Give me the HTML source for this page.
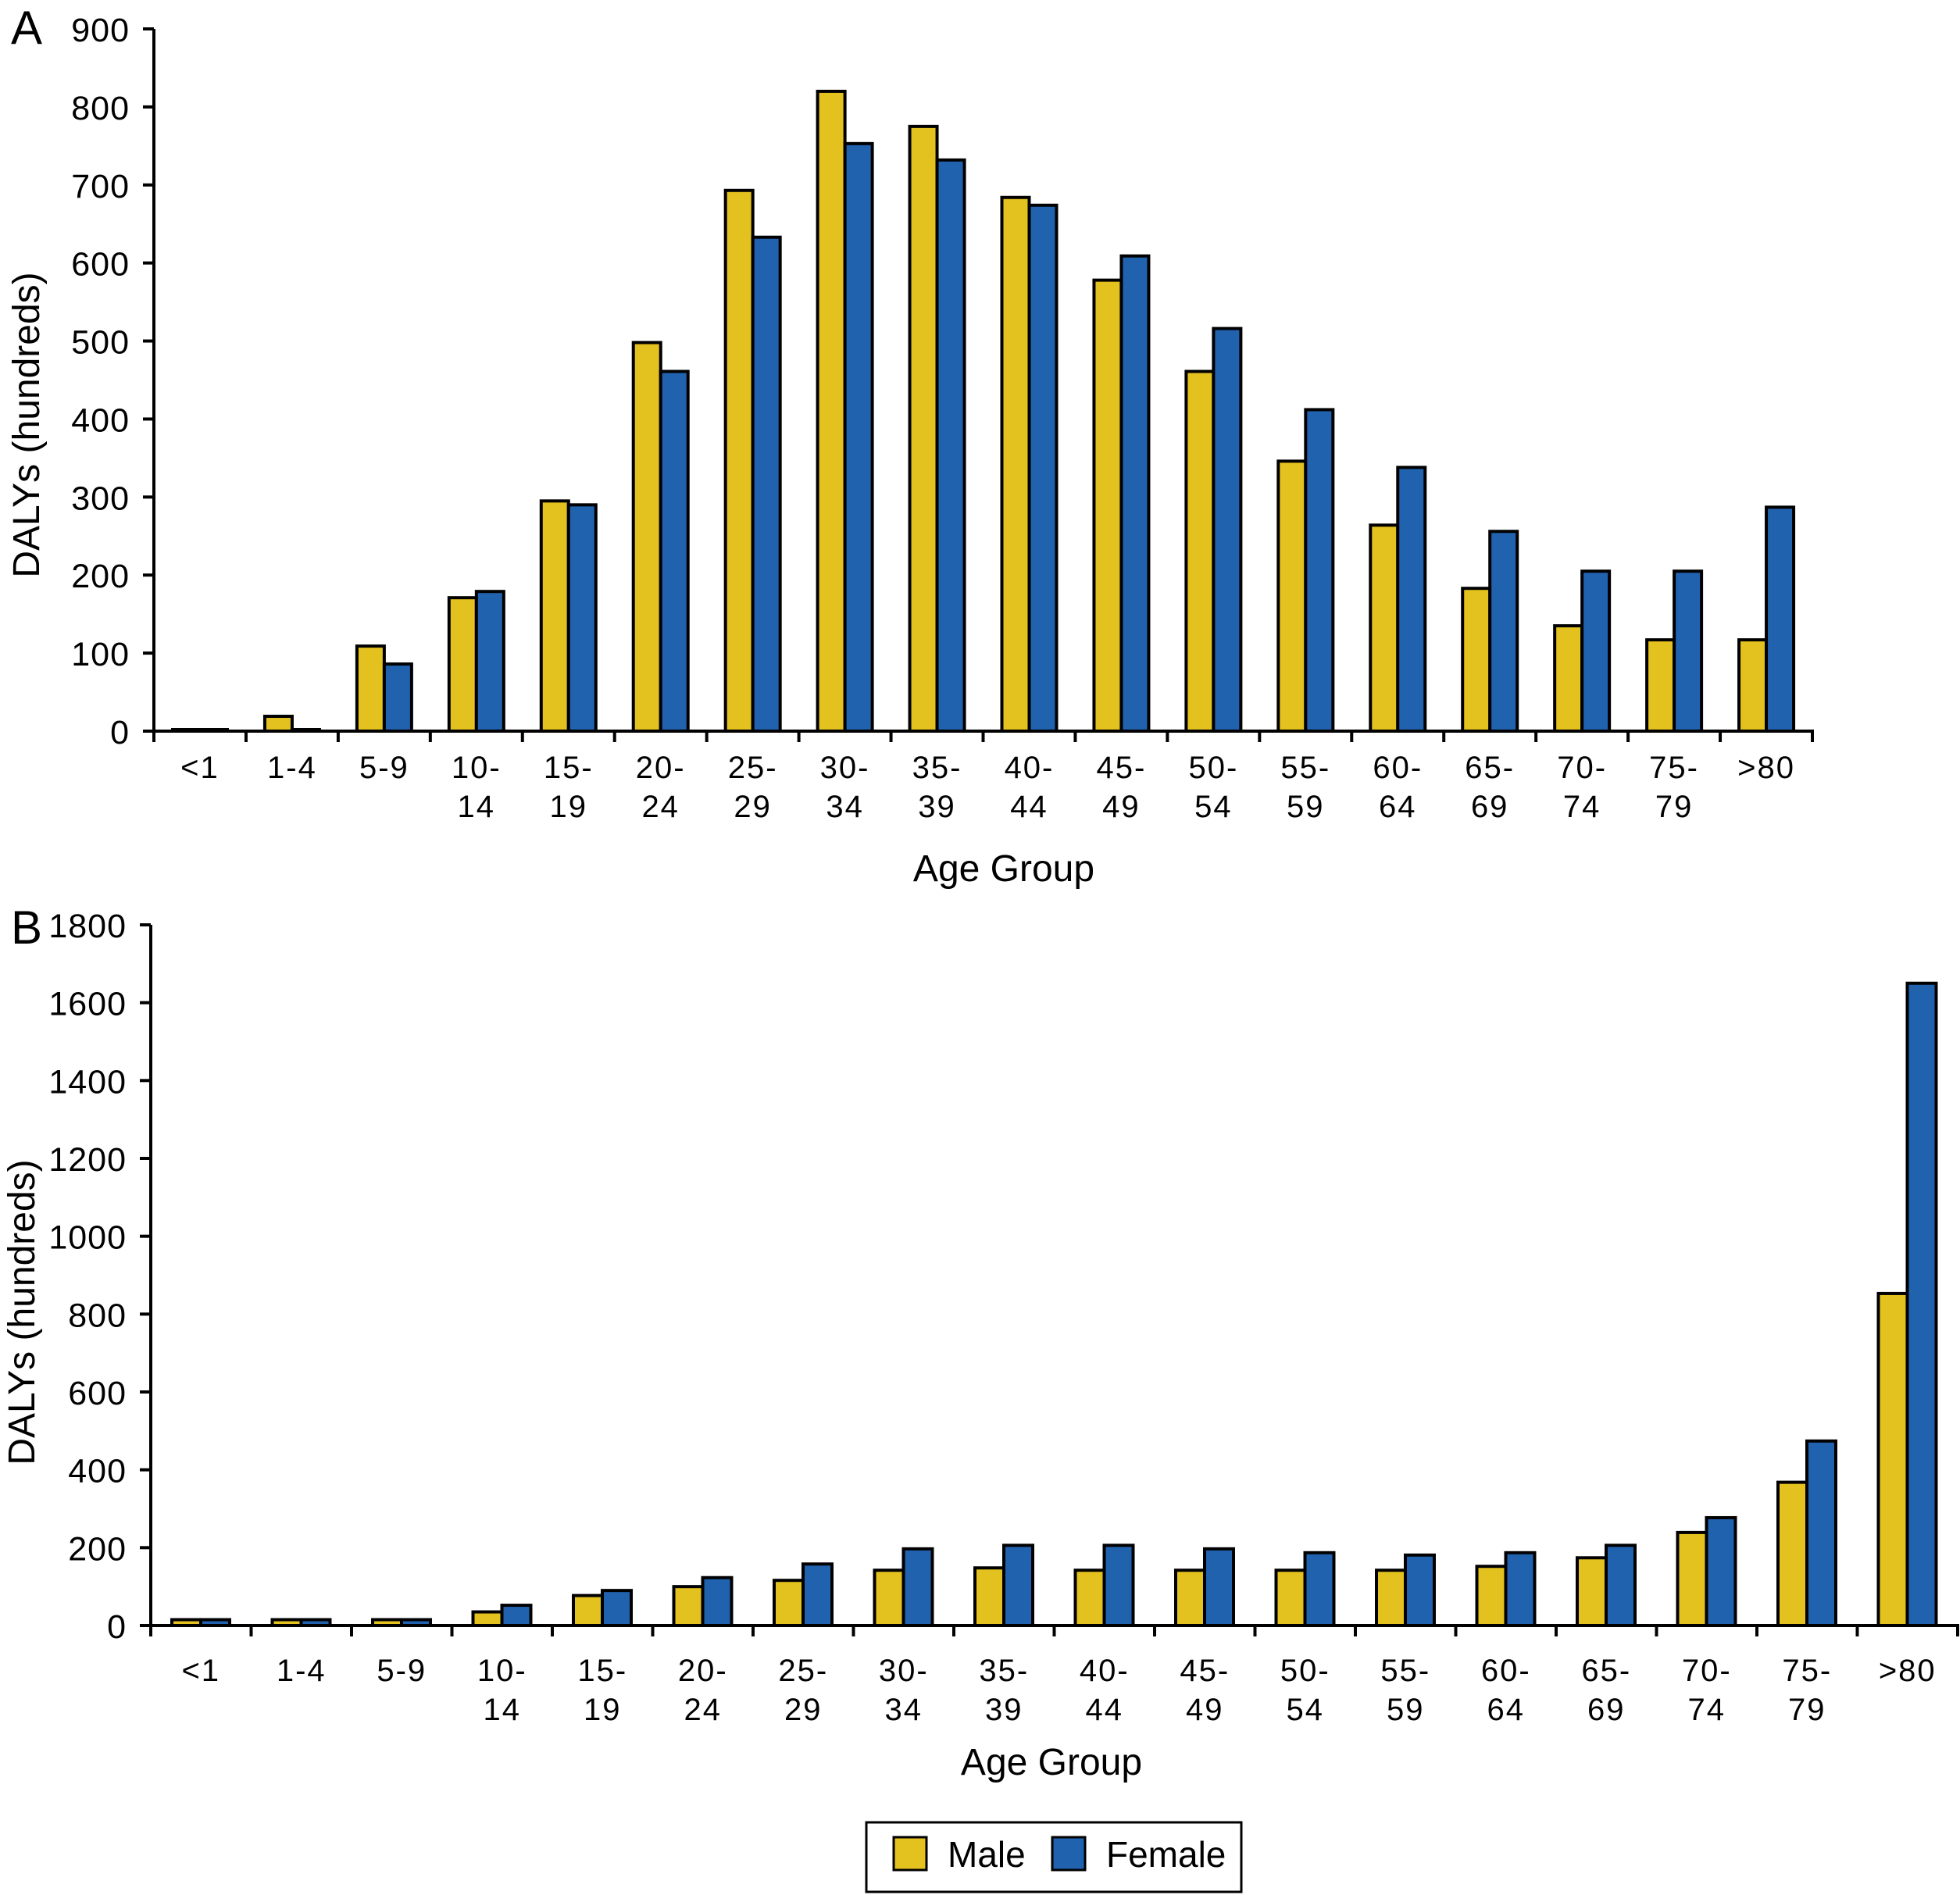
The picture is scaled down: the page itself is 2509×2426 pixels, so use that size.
<!DOCTYPE html>
<html><head><meta charset="utf-8"><style>
html,body{margin:0;padding:0;background:#fff}
svg{display:block;font-family:"Liberation Sans",Arial,sans-serif}
</style></head><body>
<svg id="chart" width="2509" height="2426" viewBox="0 0 2509 2426" xmlns="http://www.w3.org/2000/svg">
<text x="14" y="56" font-size="60">A</text>
<text x="14" y="1208" font-size="60">B</text>
<text transform="translate(50,544) rotate(-90)" text-anchor="middle" font-size="48">DALYs (hundreds)</text>
<text transform="translate(44,1680) rotate(-90)" text-anchor="middle" font-size="48">DALYs (hundreds)</text>
<text x="1285" y="1128" text-anchor="middle" font-size="48">Age Group</text>
<text x="1346" y="2272" text-anchor="middle" font-size="48">Age Group</text>
<g>
<rect x="1109" y="2333" width="480" height="89" fill="#fff" stroke="#000" stroke-width="3"/>
<rect x="1144" y="2352" width="42" height="42" fill="#E3C11E" stroke="#000" stroke-width="3"/>
<text x="1213" y="2390" font-size="46">Male</text>
<rect x="1347" y="2352" width="42" height="42" fill="#2162AE" stroke="#000" stroke-width="3"/>
<text x="1416" y="2390" font-size="46">Female</text>
</g>
</svg>
<script>
const categories = ["<1","1-4","5-9","10-|14","15-|19","20-|24","25-|29","30-|34","35-|39","40-|44","45-|49","50-|54","55-|59","60-|64","65-|69","70-|74","75-|79",">80"];
const maleA = [2,19,109,171,295,498,693,820,775,684,578,461,346,264,183,135,117,117];
const femaleA = [2,2,86,179,290,461,633,753,732,674,609,516,412,338,256,205,205,287];
const ticksA = [0,100,200,300,400,500,600,700,800,900];
const maleB = [15,15,15,35,77,100,116,142,148,142,142,142,142,152,174,239,368,853];
const femaleB = [15,15,15,52,90,123,158,197,206,206,197,187,181,187,206,277,474,1650];
const ticksB = [0,200,400,600,800,1000,1200,1400,1600,1800];

const NS = "http://www.w3.org/2000/svg";
const svg = document.getElementById("chart");
function mk(tag, attrs, parent){
  const e = document.createElementNS(NS, tag);
  for (const k in attrs) e.setAttribute(k, attrs[k]);
  (parent||svg).appendChild(e);
  return e;
}
function panel(p){
  const g = mk("g", {});
  
  
  const y = v => p.y0 - (v - p.ticks[0]) / (p.ticks[p.ticks.length-1] - p.ticks[0]) * (p.y0 - p.yTop);
  const gw = (p.x1 - p.x0) / categories.length;
  const x = i => p.x0 + i * gw;
  categories.forEach((c, i) => {
    const bx = x(i) + p.off;
    const m = mk("rect", {x: bx, y: y(p.male[i]), width: p.bw, height: p.y0 - y(p.male[i]), fill: "#E3C11E", stroke: "#000", "stroke-width": 4}, g);
    
    
    const f = mk("rect", {x: bx + p.bw, y: y(p.female[i]), width: p.bw, height: p.y0 - y(p.female[i]), fill: "#2162AE", stroke: "#000", "stroke-width": 4}, g);
    
    
    const parts = c.split("|");
    parts.forEach((t, k) => {
      const tx = mk("text", {x: x(i) + gw/2, y: p.ly + k*50, "text-anchor": "middle", "font-size": 40, "letter-spacing": 2}, g);
      tx.textContent = t;
      
      
    });
    const tk = mk("line", {x1: x(i+1), x2: x(i+1), y1: p.y0, y2: p.y0 + 14, stroke: "#000", "stroke-width": 4}, g);
    
    
  });
  const ya = mk("line", {x1: p.x0, x2: p.x0, y1: p.yTop, y2: p.y0 + 14, stroke: "#000", "stroke-width": 4}, g);
  
  
  const xa = mk("line", {x1: p.x0 - 14, x2: p.x1 + 2, y1: p.y0, y2: p.y0, stroke: "#000", "stroke-width": 4}, g);
  
  
  p.ticks.forEach(t => {
    const l = mk("line", {x1: p.x0 - 14, x2: p.x0, y1: y(t), y2: y(t), stroke: "#000", "stroke-width": 4}, g);
    
    
    const tx = mk("text", {x: p.x0 - 31, y: y(t) + 16, "text-anchor": "end", "font-size": 43, "letter-spacing": 1}, g);
    tx.textContent = t;
    
    
  });
}
panel({id:"a", x0:197, x1:2320, y0:936, yTop:37, ticks:ticksA, male:maleA, female:femaleA, bw:35, off:24, ly:996});
panel({id:"b", x0:193, x1:2506, y0:2081, yTop:1184, ticks:ticksB, male:maleB, female:femaleB, bw:37, off:27, ly:2152});
</script>
</body></html>
